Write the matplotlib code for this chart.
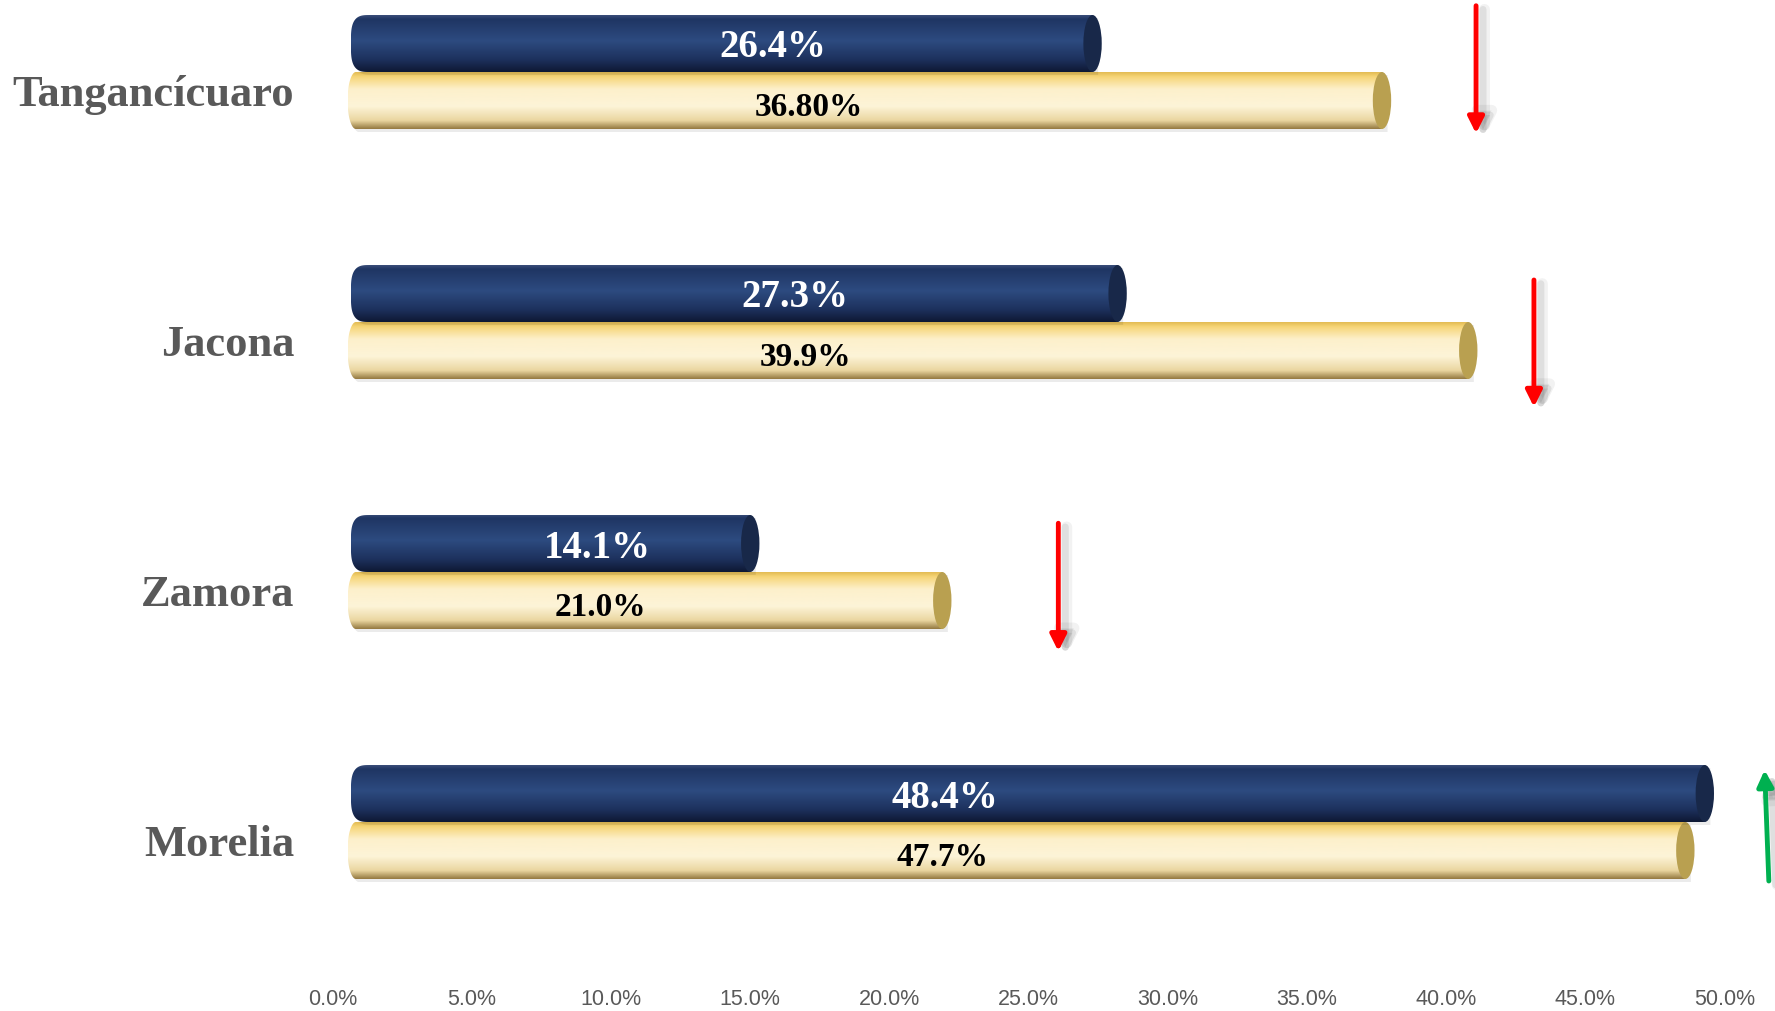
import numpy as np
import matplotlib
matplotlib.use("Agg")
import matplotlib.pyplot as plt
from matplotlib.path import Path
from matplotlib.patches import PathPatch, Ellipse
from matplotlib.colors import LinearSegmentedColormap

# ---------------- data ----------------
categories = ["Tangancícuaro", "Jacona", "Zamora", "Morelia"]
series_dark = [26.4, 27.3, 14.1, 48.4]          # navy bars
series_light = [36.80, 39.9, 21.0, 47.7]        # cream bars
labels_dark = ["26.4%", "27.3%", "14.1%", "48.4%"]
labels_light = ["36.80%", "39.9%", "21.0%", "47.7%"]
tick_values = [0, 5, 10, 15, 20, 25, 30, 35, 40, 45, 50]
tick_labels = ["0.0%", "5.0%", "10.0%", "15.0%", "20.0%", "25.0%",
               "30.0%", "35.0%", "40.0%", "45.0%", "50.0%"]
trend = ["down", "down", "down", "up"]

# -------------- layout (style) --------------
label_x_dark = [15.8, 16.6, 9.5, 22.0]
label_x_light = [17.1, 17.0, 9.6, 21.9]
arrow_x = [41.08, 43.16, 26.07, 51.6]
arrow_y = [(0.265, -0.246), (0.168, -0.34), (0.195, -0.317), (-0.236, 0.208)]

W, H, DPI = 1775, 1011, 100
fig = plt.figure(figsize=(W / DPI, H / DPI), dpi=DPI)
fig.patch.set_facecolor("white")
ax_bottom_px = 965
ax = fig.add_axes([0, 1 - ax_bottom_px / H, 1, ax_bottom_px / H])
px_per_unit_x = 27.83
x0_px = 332.8
ax.set_xlim(-x0_px / px_per_unit_x, (W - x0_px) / px_per_unit_x)
grp_px = 250.0
top_center_px = 72.0
n = len(categories)
ax.set_ylim(-(ax_bottom_px - (top_center_px + (n - 1) * grp_px)) / grp_px,
            (n - 1) + top_center_px / grp_px)
for s in ax.spines.values():
    s.set_visible(False)
ax.set_yticks([])
ax.set_xticks(tick_values)
ax.set_xticklabels(tick_labels, family=["Liberation Sans", "DejaVu Sans"],
                   fontsize=15.5, color="#595959")
ax.tick_params(axis="x", length=0, pad=17)

BAR_H = 0.228
SHIFT = 0.9
CAP_HW = 0.33

dark_cmap = LinearSegmentedColormap.from_list("dark", [
    (0.0, "#3b4f7a"), (0.07, "#1f3563"), (0.45, "#2d4b80"),
    (0.78, "#1d315d"), (1.0, "#0e1833")])
light_cmap = LinearSegmentedColormap.from_list("light", [
    (0.0, "#e2bb52"), (0.08, "#f6d577"), (0.3, "#fdf0cb"),
    (0.6, "#fdf4d8"), (0.85, "#ead6a0"), (1.0, "#93783f")])


def left_end_path(x_left, x_right, yc, h, a, p):
    b = h / 2
    th = np.linspace(np.pi / 2, 3 * np.pi / 2, 60)
    c, s = np.cos(th), np.sin(th)
    xs = x_left + a + a * np.sign(c) * np.abs(c) ** p
    ys = yc + b * np.sign(s) * np.abs(s) ** p
    verts = list(zip(xs, ys))
    verts += [(x_right, yc - b), (x_right, yc + b), (x_left + a, yc + b)]
    codes = [Path.MOVETO] + [Path.LINETO] * (len(verts) - 2) + [Path.CLOSEPOLY]
    return Path(verts, codes)


def cylinder(value, yc, cmap, cap_color, left_edge, a, p, z):
    x_right = value + SHIFT
    sh = PathPatch(left_end_path(left_edge + 0.1, x_right + 0.2, yc - 0.012, BAR_H, a, p),
                   facecolor="#000000", alpha=0.08, edgecolor="none", zorder=z - 0.5)
    ax.add_patch(sh)
    grad = np.linspace(0, 1, 256).reshape(-1, 1)
    im = ax.imshow(grad, cmap=cmap, aspect="auto", interpolation="bicubic",
                   extent=[left_edge, x_right, yc - BAR_H / 2, yc + BAR_H / 2],
                   origin="upper", zorder=z)
    clip = PathPatch(left_end_path(left_edge, x_right, yc, BAR_H, a, p),
                     facecolor="none", edgecolor="none", transform=ax.transData)
    ax.add_patch(clip)
    im.set_clip_path(clip)
    cap = Ellipse((x_right, yc), 2 * CAP_HW, BAR_H, facecolor=cap_color,
                  edgecolor="none", zorder=z + 0.1)
    ax.add_patch(cap)


serif = ["Liberation Serif", "DejaVu Serif"]
for i, cat in enumerate(categories):
    yc = (n - 1) - i
    y_dark = yc + BAR_H / 2
    y_light = yc - BAR_H / 2
    cylinder(series_light[i], y_light, light_cmap, "#b9a050", 0.53, 0.3, 1.0, 2)
    cylinder(series_dark[i], y_dark, dark_cmap, "#182849", 0.65, 0.7, 0.6, 4)
    ax.text(label_x_dark[i], y_dark - 0.018, labels_dark[i], color="white",
            family=serif, fontweight="bold", fontsize=28, ha="center", va="center",
            zorder=10)
    ax.text(label_x_light[i], y_light - 0.03, labels_light[i], color="black",
            family=serif, fontweight="bold", fontsize=24, ha="center", va="center",
            zorder=10)
    ax.text(-1.39, yc - 0.092, cat, color="#595959", family=serif,
            fontweight="bold", fontsize=32, ha="right", va="center", zorder=10)
    col = "#ff0000" if trend[i] == "down" else "#00b050"
    y_start, y_end = arrow_y[i]
    xs = arrow_x[i]
    xe = xs - 0.15 if trend[i] == "up" else xs
    for k, (dx, al, lw) in enumerate([(0.3, 0.05, 8), (0.25, 0.08, 5)]):
        ax.annotate("", xy=(xe + dx, yc + y_end - 0.015), xytext=(xs + dx, yc + y_start - 0.015),
                    arrowprops=dict(arrowstyle="-|>", color="#000000", alpha=al, lw=lw,
                                    mutation_scale=26, shrinkA=0, shrinkB=0),
                    annotation_clip=False, zorder=8)
    ax.annotate("", xy=(xe, yc + y_end), xytext=(xs, yc + y_start),
                arrowprops=dict(arrowstyle="-|>", color=col, lw=3.5,
                                mutation_scale=24, shrinkA=0, shrinkB=0),
                annotation_clip=False, zorder=9)

fig.savefig("out.png", dpi=DPI, facecolor="white")
